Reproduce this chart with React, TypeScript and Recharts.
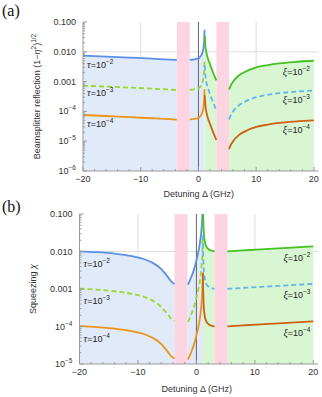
import React from 'react';
import {
  ComposedChart,
  Line,
  Area,
  XAxis,
  YAxis,
  ReferenceArea,
  ReferenceLine,
  ReferenceDot,
  Label,
} from 'recharts';

// ---------- shared ----------
const xTicks = [-20, -18, -16, -14, -12, -10, -8, -6, -4, -2, 0, 2, 4, 6, 8, 10, 12, 14, 16, 18, 20];
const pinkBands = [
  [-3.75, -1.5],
  [3.1, 5.3],
];
const gapX = [-2.6, 4.2]; // empty rows so the curves break inside the pink bands

// ---------- panel (a): beamsplitter reflection ----------
const aYTicks = [1e-6, 1e-5, 1e-4, 1e-3, 1e-2, 1e-1];

const aTauX1 = [-20, -16, -12, -8, -5, -3.75];
const aTau2L = [0.0074, 0.0069, 0.0064, 0.0059, 0.0055, 0.0053];
const aTau3L = [0.00073, 0.00068, 0.00063, 0.00058, 0.00054, 0.00052];
const aTau4L = [0.000076, 0.00007, 0.000064, 0.000059, 0.000055, 0.000053];

const aTauX2 = [-1.5, -1, -0.5, 0, 0.4, 0.7, 0.9, 1.0, 1.06];
const aTau2R = [0.0054, 0.0055, 0.0057, 0.006, 0.0072, 0.0095, 0.015, 0.026, 0.055];
const aTau3R = [0.00053, 0.00054, 0.00056, 0.00059, 0.0007, 0.00093, 0.0015, 0.0026, 0.0054];
const aTau4R = [0.000054, 0.000055, 0.000057, 0.00006, 0.000072, 0.000095, 0.00015, 0.00026, 0.00056];

const aXiX1 = [1.1, 1.2, 1.4, 1.7, 2.0, 2.5, 3.1];
const aXi2L = [0.035, 0.016, 0.009, 0.0055, 0.0038, 0.0021, 0.0011];
const aXi3L = [0.0035, 0.0016, 0.0009, 0.00055, 0.00038, 0.00021, 0.00011];
const aXi4L = [0.00035, 0.00016, 0.00009, 0.000055, 0.000038, 0.000021, 0.000011];

const aXiX2 = [5.3, 5.6, 6, 7, 8, 10, 12, 14, 17, 20];
const aXi2R = [0.00054, 0.00075, 0.001, 0.0016, 0.0021, 0.003, 0.0036, 0.0041, 0.0046, 0.005];
const aXi3R = [0.000054, 0.000075, 0.0001, 0.00016, 0.00021, 0.0003, 0.00036, 0.00041, 0.00046, 0.0005];
const aXi4R = [0.0000054, 0.0000075, 0.00001, 0.000016, 0.000021, 0.00003, 0.000036, 0.000041, 0.000046, 0.00005];

// ---------- panel (b): squeezing ----------
const bYTicks = [1e-5, 1e-4, 1e-3, 1e-2, 1e-1];

const bTauX1 = [-20, -17, -14, -11, -9, -7.5, -6, -5, -4.3, -3.75];
const bTau2L = [0.0101, 0.0096, 0.0088, 0.0075, 0.0063, 0.005, 0.0034, 0.0022, 0.0016, 0.00135];
const bTau3L = [0.00102, 0.00096, 0.00087, 0.00074, 0.00062, 0.00049, 0.00033, 0.00022, 0.00016, 0.00014];
const bTau4L = [0.000102, 0.000096, 0.000088, 0.000075, 0.000063, 0.00005, 0.000034, 0.000022, 0.000016, 0.000014];

const bTauX2 = [-1.45, -1, -0.5, 0, 0.4, 0.7, 0.9, 1.0, 1.1];
const bTau2R = [0.0013, 0.0019, 0.003, 0.0058, 0.011, 0.022, 0.045, 0.08, 0.27];
const bTau3R = [0.00013, 0.00019, 0.0003, 0.00058, 0.0011, 0.0022, 0.0045, 0.008, 0.027];
const bTau4R = [0.000013, 0.000019, 0.00003, 0.000058, 0.00011, 0.00022, 0.00045, 0.0008, 0.0027];

const bXiX1 = [1.1, 1.15, 1.25, 1.4, 1.7, 2.2, 2.7, 3.1];
const bXi2L = [0.27, 0.1, 0.035, 0.02, 0.0135, 0.0112, 0.0104, 0.0101];
const bXi3L = [0.027, 0.01, 0.0035, 0.002, 0.00135, 0.00112, 0.00104, 0.00101];
const bXi4L = [0.0027, 0.001, 0.00035, 0.0002, 0.000135, 0.000112, 0.000104, 0.000101];

const bXiX2 = [5.3, 8, 11, 14, 17, 20];
const bXi2R = [0.0101, 0.0107, 0.0114, 0.0121, 0.0129, 0.0137];
const bXi3R = [0.00101, 0.00107, 0.00114, 0.00121, 0.00129, 0.00137];
const bXi4R = [0.000101, 0.000107, 0.000114, 0.000121, 0.000129, 0.000137];

// ---------- styling ----------
const SANS = '"Liberation Sans", Arial, sans-serif';
const SERIF = '"Liberation Serif", "Times New Roman", serif';
const FRAME = '#9a9a9a';
const TXT = '#333';
const C = {
  tau2: '#5b8fe6',
  tau3: '#9ad82e',
  tau4: '#eb9419',
  xi2: '#45c121',
  xi3: '#62b5ec',
  xi4: '#cf5f12',
  blueFill: '#e1eaf8',
  greenFill: '#d8f6d2',
  pink: '#fdd5e2',
};

type Row = { x: number; [k: string]: number | undefined };
type Seg = { xs: number[]; series: Record<string, number[]> };

function buildRows(segs: Seg[]): Row[] {
  const rows: Row[] = [];
  segs.forEach((s) =>
    s.xs.forEach((x, i) => {
      const r: Row = { x };
      Object.keys(s.series).forEach((k) => (r[k] = s.series[k][i]));
      rows.push(r);
    })
  );
  gapX.forEach((x) => rows.push({ x }));
  return rows.sort((p, q) => p.x - q.x);
}

const rowsA = buildRows([
  { xs: aTauX1, series: { tau2: aTau2L, tau3: aTau3L, tau4: aTau4L } },
  { xs: aTauX2, series: { tau2: aTau2R, tau3: aTau3R, tau4: aTau4R } },
  { xs: aXiX1, series: { xi2: aXi2L, xi3: aXi3L, xi4: aXi4L } },
  { xs: aXiX2, series: { xi2: aXi2R, xi3: aXi3R, xi4: aXi4R } },
]);

const rowsB = buildRows([
  { xs: bTauX1, series: { tau2: bTau2L, tau3: bTau3L, tau4: bTau4L } },
  { xs: bTauX2, series: { tau2: bTau2R, tau3: bTau3R, tau4: bTau4R } },
  { xs: bXiX1, series: { xi2: bXi2L, xi3: bXi3L, xi4: bXi4L } },
  { xs: bXiX2, series: { xi2: bXi2R, xi3: bXi3R, xi4: bXi4R } },
]);

function minorLog(majors: number[]) {
  const out: number[] = [];
  majors.slice(0, -1).forEach((m) => [2, 3, 4, 5, 6, 7, 8, 9].forEach((k) => out.push(m * k)));
  return out;
}

function fmtY(v: number) {
  if (v >= 0.001) return v.toFixed(3);
  const e = Math.round(Math.log10(v));
  return (
    <>
      10
      <tspan dy={-4} fontSize={6.5}>
        {'\u2212' + Math.abs(e)}
      </tspan>
    </>
  );
}

const makeYTick = (majors: number[], side: 'left' | 'right') => (p: any) => {
  const v = p.payload.value;
  const major = majors.includes(v);
  const len = major ? 4 : 2;
  const dir = side === 'left' ? 1 : -1;
  return (
    <g>
      <line x1={p.x} x2={p.x + dir * len} y1={p.y} y2={p.y} stroke={FRAME} />
      {side === 'left' && major && (
        <text x={p.x - 7} y={p.y + 3} textAnchor="end" fontSize={9} fill={TXT} fontFamily={SANS}>
          {fmtY(v)}
        </text>
      )}
    </g>
  );
};

const makeXTick = (side: 'bottom' | 'top') => (p: any) => {
  const v = p.payload.value;
  const major = v % 10 === 0;
  const len = major ? 4 : 2;
  const dir = side === 'bottom' ? -1 : 1;
  return (
    <g>
      <line x1={p.x} x2={p.x} y1={p.y} y2={p.y + dir * len} stroke={FRAME} />
      {side === 'bottom' && major && (
        <text x={p.x} y={p.y + 11} textAnchor="middle" fontSize={9} fill={TXT} fontFamily={SANS}>
          {v < 0 ? '\u2212' + -v : v}
        </text>
      )}
    </g>
  );
};

// label text is vertically centred on its (x, y) point
const curveLabel = (sym: string, exp: number, anchor: 'start' | 'end') => (p: any) => (
  <text x={p.cx} y={p.cy + 3} textAnchor={anchor} fontSize={9} fill="#222" fontFamily={SANS}>
    <tspan fontStyle="italic" fontFamily={SERIF} fontSize={10}>
      {sym}
    </tspan>
    =10
    <tspan dy={-4} fontSize={6.5}>
      {'\u2212' + exp}
    </tspan>
  </text>
);

type PanelProps = {
  rows: Row[];
  yTicks: number[];
  top: number;
  height: number;
  marginTop: number;
  marginRight: number;
  yWidth: number;
  xHeight: number;
  xLabelDy: number;
  yLabelX: number;
  yLabel: React.ReactNode;
  tauLabels: [number, number][];
  xiLabels: [number, number][];
};

function Panel(props: PanelProps) {
  const { rows, yTicks } = props;
  const yDomain = [yTicks[0], yTicks[yTicks.length - 1]];
  const allY = [...yTicks, ...minorLog(yTicks)];
  return (
    <div style={{ position: 'absolute', left: 0, top: props.top }}>
      <ComposedChart
        width={322}
        height={props.height}
        data={rows}
        margin={{ top: props.marginTop, right: props.marginRight, left: 0, bottom: 0 }}
      >
        <XAxis
          dataKey="x"
          type="number"
          domain={[-20, 20.8]}
          allowDataOverflow
          ticks={xTicks}
          interval={0}
          tickSize={0}
          tickMargin={0}
          tickLine={false}
          tick={makeXTick('bottom')}
          axisLine={{ stroke: FRAME }}
          height={props.xHeight}
        >
          <Label
            content={(lp: any) => {
              const vb = lp.viewBox;
              return (
                <text
                  x={vb.x + vb.width / 2 - 2}
                  y={vb.y + props.xLabelDy}
                  textAnchor="middle"
                  fontSize={9}
                  fill={TXT}
                  fontFamily={SANS}
                >
                  Detuning Δ (GHz)
                </text>
              );
            }}
          />
        </XAxis>
        <XAxis
          xAxisId="top"
          orientation="top"
          dataKey="x"
          type="number"
          domain={[-20, 20.8]}
          allowDataOverflow
          ticks={xTicks}
          interval={0}
          tickSize={0}
          tickMargin={0}
          tickLine={false}
          tick={makeXTick('top')}
          axisLine={{ stroke: FRAME }}
          height={0}
        />
        <YAxis
          type="number"
          scale="log"
          domain={yDomain}
          allowDataOverflow
          ticks={allY}
          interval={0}
          tickSize={0}
          tickMargin={0}
          tickLine={false}
          tick={makeYTick(yTicks, 'left')}
          axisLine={{ stroke: FRAME }}
          width={props.yWidth}
        >
          <Label
            content={(lp: any) => {
              const vb = lp.viewBox;
              return (
                <text
                  transform={`translate(${vb.x + props.yLabelX},${vb.y + vb.height / 2}) rotate(-90)`}
                  textAnchor="middle"
                  fontSize={9}
                  fill={TXT}
                  fontFamily={SANS}
                >
                  {props.yLabel}
                </text>
              );
            }}
          />
        </YAxis>
        <YAxis
          yAxisId="right"
          orientation="right"
          type="number"
          scale="log"
          domain={yDomain}
          allowDataOverflow
          ticks={allY}
          interval={0}
          tickSize={0}
          tickMargin={0}
          tickLine={false}
          tick={makeYTick(yTicks, 'right')}
          axisLine={{ stroke: FRAME }}
          width={0}
        />

        <ReferenceLine x={-10} stroke="#dddddd" zIndex={-50} />
        <ReferenceLine x={10} stroke="#dddddd" zIndex={-50} />
        <ReferenceLine y={0.01} stroke="#dddddd" zIndex={-50} />

        <Area
          dataKey="tau2"
          type="monotone"
          stroke="none"
          fill={C.blueFill}
          fillOpacity={1}
          baseValue={yDomain[0]}
          isAnimationActive={false}
          activeDot={false}
          zIndex={100}
        />
        <Area
          dataKey="xi2"
          type="monotone"
          stroke="none"
          fill={C.greenFill}
          fillOpacity={1}
          baseValue={yDomain[0]}
          isAnimationActive={false}
          activeDot={false}
          zIndex={100}
        />

        {pinkBands.map(([a, b]) => (
          <ReferenceArea key={a} x1={a} x2={b} fill={C.pink} fillOpacity={1} stroke="none" zIndex={150} />
        ))}
        <ReferenceLine x={0} stroke="#666666" zIndex={160} />

        <Line dataKey="tau2" type="monotone" stroke={C.tau2} strokeWidth={1.8} dot={false} activeDot={false} isAnimationActive={false} />
        <Line dataKey="tau3" type="monotone" stroke={C.tau3} strokeWidth={1.8} strokeDasharray="5 3" dot={false} activeDot={false} isAnimationActive={false} />
        <Line dataKey="tau4" type="monotone" stroke={C.tau4} strokeWidth={1.8} dot={false} activeDot={false} isAnimationActive={false} />
        <Line dataKey="xi2" type="monotone" stroke={C.xi2} strokeWidth={1.8} dot={false} activeDot={false} isAnimationActive={false} />
        <Line dataKey="xi3" type="monotone" stroke={C.xi3} strokeWidth={1.8} strokeDasharray="5 3" dot={false} activeDot={false} isAnimationActive={false} />
        <Line dataKey="xi4" type="monotone" stroke={C.xi4} strokeWidth={1.8} dot={false} activeDot={false} isAnimationActive={false} />

        {props.tauLabels.map(([x, y], i) => (
          <ReferenceDot key={'t' + i} x={x} y={y} r={0} zIndex={2000} shape={curveLabel('τ', i + 2, 'start')} />
        ))}
        {props.xiLabels.map(([x, y], i) => (
          <ReferenceDot key={'x' + i} x={x} y={y} r={0} zIndex={2000} shape={curveLabel('ξ', i + 2, 'end')} />
        ))}
      </ComposedChart>
    </div>
  );
}

const panelTag: React.CSSProperties = {
  position: 'absolute',
  left: 2,
  fontFamily: SERIF,
  fontSize: 16,
  color: '#111',
  lineHeight: '16px',
};

export default function App() {
  return (
    <div style={{ position: 'absolute', left: 0, top: 0, width: 322, height: 397, background: '#fff' }}>
      <div style={{ ...panelTag, top: 3 }}>(a)</div>
      <div style={{ ...panelTag, top: 199 }}>(b)</div>
      <Panel
        rows={rowsA}
        yTicks={aYTicks}
        top={0}
        height={200}
        marginTop={22}
        marginRight={3.5}
        yWidth={83}
        xHeight={29}
        xLabelDy={26}
        yLabelX={40}
        yLabel={
          <>
            Beamsplitter reflection (1−<tspan fontStyle="italic">η</tspan>
            <tspan dy={-4} fontSize={6.5}>
              2
            </tspan>
            <tspan dy={4}>)</tspan>
            <tspan dy={-4} fontSize={6.5}>
              1/2
            </tspan>
          </>
        }
        tauLabels={[
          [-19.3, 0.0036],
          [-19.3, 0.00042],
          [-19.3, 0.000038],
        ]}
        xiLabels={[
          [19.3, 0.0021],
          [19.3, 0.00024],
          [19.3, 0.000024],
        ]}
      />
      <Panel
        rows={rowsB}
        yTicks={bYTicks}
        top={200}
        height={197}
        marginTop={14}
        marginRight={4}
        yWidth={79.5}
        xHeight={33}
        xLabelDy={28}
        yLabelX={36}
        yLabel={
          <>
            Squeezing <tspan fontStyle="italic">χ</tspan>
          </>
        }
        tauLabels={[
          [-19.3, 0.0047],
          [-19.3, 0.00048],
          [-19.3, 0.000047],
        ]}
        xiLabels={[
          [19.5, 0.0067],
          [19.5, 0.00071],
          [19.5, 0.000068],
        ]}
      />
    </div>
  );
}
